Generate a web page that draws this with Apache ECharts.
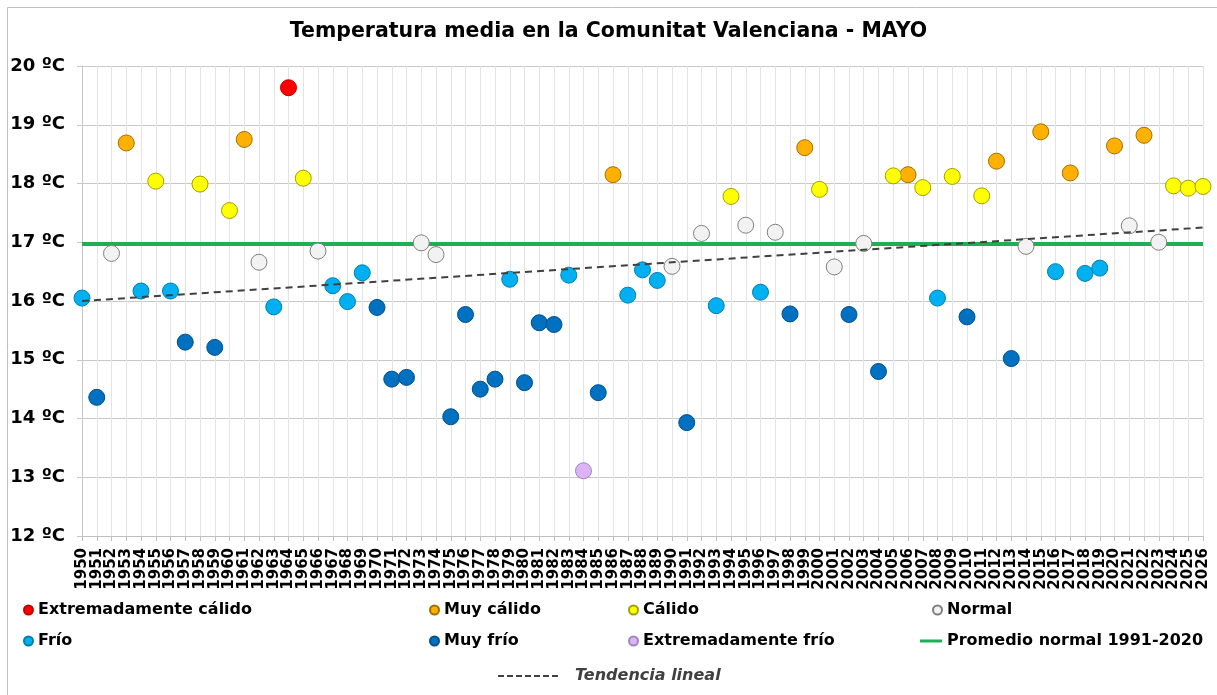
<!DOCTYPE html>
<html>
<head>
<meta charset="utf-8">
<script src="https://cdn.jsdelivr.net/npm/echarts@6/dist/echarts.min.js"></script>
<style>
html,body{margin:0;padding:0;background:#fff;}
#chart{width:1217px;height:695px;}
</style>
</head>
<body>
<div id="chart"></div>
<script>
// ---- Data ----
const years = ['1950','1951','1952','1953','1954','1955','1956','1957','1958','1959',
  '1960','1961','1962','1963','1964','1965','1966','1967','1968','1969',
  '1970','1971','1972','1973','1974','1975','1976','1977','1978','1979',
  '1980','1981','1982','1983','1984','1985','1986','1987','1988','1989',
  '1990','1991','1992','1993','1994','1995','1996','1997','1998','1999',
  '2000','2001','2002','2003','2004','2005','2006','2007','2008','2009',
  '2010','2011','2012','2013','2014','2015','2016','2017','2018','2019',
  '2020','2021','2022','2023','2024','2025','2026'];

const temps = [16.05,14.36,16.81,18.69,16.17,18.04,16.17,15.30,17.99,15.21,
  17.54,18.75,16.66,15.90,19.63,18.09,16.85,16.26,15.99,16.48,
  15.89,14.67,14.70,16.99,16.79,14.03,15.77,14.50,14.67,16.37,
  14.61,15.63,15.60,16.44,13.11,14.44,18.15,16.10,16.53,16.35,
  16.59,13.93,17.15,15.92,17.78,17.29,16.15,17.17,15.78,18.61,
  17.90,16.58,15.77,16.98,14.80,18.13,18.15,17.93,16.05,18.12,
  15.73,17.79,18.38,15.02,16.93,18.88,16.50,18.18,16.47,16.56,
  18.64,17.28,18.82,17.00,17.96,17.92,17.95];

// EC extremadamente cálido, MC muy cálido, C cálido, N normal, F frío, MF muy frío, EF extremadamente frío
const classes = ['F','MF','N','MC','F','C','F','MF','C','MF',
  'C','MC','N','F','EC','C','N','F','F','F',
  'MF','MF','MF','N','N','MF','MF','MF','MF','F',
  'MF','MF','MF','F','EF','MF','MC','F','F','F',
  'N','MF','N','F','C','N','F','N','MF','MC',
  'C','N','MF','N','MF','C','MC','C','F','C',
  'MF','C','MC','MF','N','MC','F','MC','F','F',
  'MC','N','MC','N','C','C','C'];

const categoryCodes = ['EC','MC','C','N','F','MF','EF'];
const categoryNames = ['Extremadamente cálido','Muy cálido','Cálido','Normal','Frío','Muy frío','Extremadamente frío'];

const normalName = 'Promedio normal 1991-2020';
const normalValue = 16.97;
const trendName = 'Tendencia lineal';
const trendStart = 16.0;   // at 1950
const trendEnd = 17.25;    // at 2026

const yTicks = [12,13,14,15,16,17,18,19,20];

// ---- Styles ----
const fills = {EC:'#ff0000', MC:'#ffb000', C:'#ffff00', N:'#f2f2f2', F:'#00b0f0', MF:'#0070c0', EF:'#dcb4f5'};
const borders = {EC:'#c00000', MC:'#a07000', C:'#a0a000', N:'#808080', F:'#0080b0', MF:'#004f88', EF:'#a085c0'};
const FONT = 'DejaVu Sans';

const scatterSeries = categoryCodes.map((code, k) => ({
  name: categoryNames[k],
  type: 'scatter',
  symbol: 'circle',
  symbolSize: 16,
  z: 5,
  itemStyle: {color: fills[code], borderColor: borders[code], borderWidth: 1, opacity: 1},
  emphasis: {disabled: true},
  data: temps.map((v, i) => classes[i] === code ? [i, v] : null).filter(d => d !== null)
}));

const series = [
  {
    name: normalName, type: 'line', symbol: 'none', z: 3,
    lineStyle: {color: '#1fad55', width: 4},
    itemStyle: {color: '#1fad55'},
    data: [[0, normalValue], [years.length - 1, normalValue]]
  },
  ...scatterSeries,
  {
    name: trendName, type: 'line', symbol: 'none', z: 6,
    lineStyle: {color: '#404040', width: 2, type: [7, 5]},
    itemStyle: {color: '#404040'},
    data: [[0, trendStart], [years.length - 1, trendEnd]]
  }
];

const legendText = {fontFamily: FONT, fontWeight: 'bold', fontSize: 16, color: '#000'};
function leg(name, left, top, extra) {
  return Object.assign({
    data: [name], left: left, top: top, itemWidth: 9, itemHeight: 9,
    icon: 'circle', textStyle: legendText, selectedMode: false, padding: 0
  }, extra || {});
}
const dashIcon = 'path://M0,0h6v2h-6z M9,0h6v2h-6z M18,0h6v2h-6z M27,0h6v2h-6z M36,0h6v2h-6z M45,0h6v2h-6z M54,0h6v2h-6z';

const option = {
  animation: false,
  backgroundColor: '#fff',
  title: {
    text: 'Temperatura media en la Comunitat Valenciana - MAYO',
    left: 'center', top: 16,
    textStyle: {fontFamily: FONT, fontWeight: 'bold', fontSize: 20.5, color: '#000'}
  },
  graphic: [{
    type: 'rect', shape: {x: 7.5, y: 7.5, width: 1220, height: 700},
    style: {fill: 'none', stroke: '#bfbfbf', lineWidth: 1}, silent: true, z: -1
  }],
  grid: {left: 82, right: 14, top: 66, bottom: 159},
  xAxis: {
    type: 'category', data: years, boundaryGap: false,
    axisLine: {show: true, lineStyle: {color: '#bfbfbf', width: 1}},
    axisTick: {show: true, interval: 0, length: 5, lineStyle: {color: '#bfbfbf'}},
    axisLabel: {interval: 0, rotate: 90, margin: 12, fontFamily: FONT, fontWeight: 'bold', fontSize: 15, color: '#000'},
    splitLine: {show: true, interval: 0, lineStyle: {color: '#e3e3e3', width: 1}}
  },
  yAxis: {
    type: 'value', min: yTicks[0], max: yTicks[yTicks.length - 1], interval: 1,
    axisLine: {show: true, lineStyle: {color: '#c8c8c8'}},
    axisTick: {show: true, length: 5, lineStyle: {color: '#c8c8c8'}},
    axisLabel: {formatter: '{value} ºC', margin: 17, fontFamily: FONT, fontWeight: 'bold', fontSize: 18, color: '#000'},
    splitLine: {show: true, lineStyle: {color: '#c8c8c8', width: 1}}
  },
  legend: [
    leg(categoryNames[0], 23, 602),
    leg(categoryNames[1], 429, 602),
    leg(categoryNames[2], 628, 602),
    leg(categoryNames[3], 932, 602),
    leg(categoryNames[4], 23, 633),
    leg(categoryNames[5], 429, 633),
    leg(categoryNames[6], 628, 633),
    leg(normalName, 920, 633, {icon: 'rect', itemWidth: 22, itemHeight: 3}),
    leg(trendName, 498, 668, {icon: dashIcon, itemWidth: 60, itemHeight: 2,
      textStyle: {fontFamily: FONT, fontWeight: 'bold', fontStyle: 'italic', fontSize: 16, color: '#404040', padding: [0, 0, 0, 12]}})
  ],
  series: series
};

const chart = echarts.init(document.getElementById('chart'), null, {renderer: 'canvas'});
chart.setOption(option);
</script>
</body>
</html>
